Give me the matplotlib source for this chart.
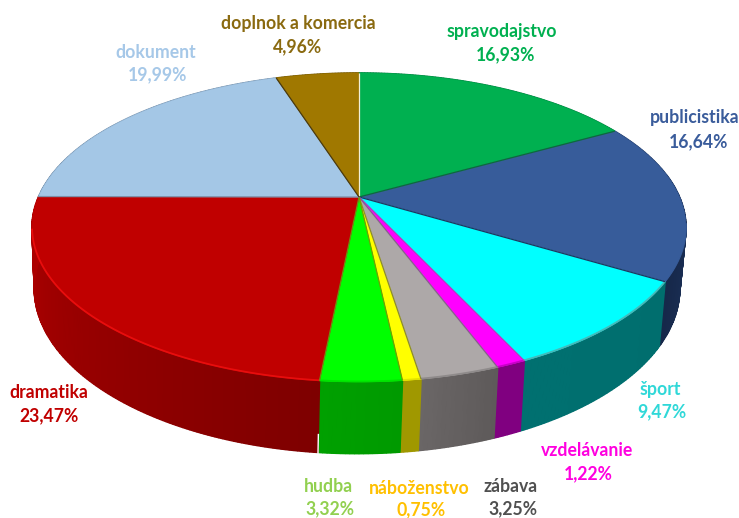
import numpy as np
import matplotlib
matplotlib.use("Agg")
import matplotlib.pyplot as plt
from matplotlib.collections import PolyCollection
from matplotlib.colors import to_rgb

categories = ["spravodajstvo", "publicistika", "šport", "vzdelávanie", "zábava",
              "náboženstvo", "hudba", "dramatika", "dokument", "doplnok a komercia"]
values = [16.93, 16.64, 9.47, 1.22, 3.25, 0.75, 3.32, 23.47, 19.99, 4.96]
value_labels = ["16,93%", "16,64%", "9,47%", "1,22%", "3,25%", "0,75%", "3,32%", "23,47%", "19,99%", "4,96%"]

top_colors = ["#00B050", "#375C9A", "#00FFFF", "#FF00FF", "#ADA8A8", "#FFFF00", "#00FF00", "#C00000", "#A4C7E6", "#A07800"]
side_start = ["#008040", "#25406E", "#006E6E", "#800080", "#5E5A5A", "#A09800", "#009A00", "#7E0000", "#708CA8", "#705400"]
side_end = ["#008040", "#16284A", "#007070", "#800080", "#6A6666", "#A09800", "#00A000", "#B00000", "#708CA8", "#705400"]
rim_colors = ["#00B050", "#375C9A", "#50B0B0", "#C000C0", "#8A8686", "#E0E000", "#00E000", "#F01010", "#A4C7E6", "#A07800"]
sep_colors = ["#F2EFD8", "#0C6B3C", "#1E3760", "#B040C0", "#8A5A90", "#8A8A30", "#70A000", "#6A9010", "#7E8FA8", "#4A3A10"]
text_colors = ["#00B050", "#3A5C9B", "#30D8D8", "#FF00E0", "#505050", "#FFC000", "#92D050", "#C00000", "#A6C8E8", "#8A6A10"]

label_xy = {
    "spravodajstvo": ((502, 31), (505, 55)), "publicistika": ((695, 118), (698, 142)),
    "šport": ((660, 389), (662, 412)), "vzdelávanie": ((587, 451), (588, 474)),
    "zábava": ((511, 486), (513, 509)), "náboženstvo": ((419, 489), (421, 510)),
    "hudba": ((328, 486), (330, 509)), "dramatika": ((49, 392), (49, 416)),
    "dokument": ((156, 52), (157, 75)), "doplnok a komercia": ((298, 24), (298, 47)),
}

W, H = 739, 518
CX, CY = 359.0, 197.0
K, A, B = 0.197, 148.5, 320.6
SX, DX, DA, DB = 0.987, -2.0, 1.07, 45.0


def top_pt(t):
    u, v = np.sin(t), np.cos(t)
    d = 1 + K * v
    return CX + B * u / d, CY - A * v / d


def bottom_pt(t):
    x, y = top_pt(t)
    return CX + SX * (x - CX) + DX, DA * y + DB


fig = plt.figure(figsize=(W / 100, H / 100), dpi=100, facecolor="white")
ax = fig.add_axes([0, 0, 1, 1])
ax.set_xlim(0, W)
ax.set_ylim(H, 0)
ax.axis("off")

edges = np.radians(np.concatenate([[0], np.cumsum(values)]) * 3.6)

# sides: a solid base, then a stepped shade over it
for i in range(len(values)):
    t = np.linspace(edges[i], edges[i + 1], max(6, int(values[i] * 6)))
    c0, c1 = np.array(to_rgb(side_start[i])), np.array(to_rgb(side_end[i]))
    xt, yt = top_pt(t)
    xb, yb = bottom_pt(t)
    ax.fill(np.r_[xt, xb[::-1]], np.r_[yt, yb[::-1]], facecolor=(c0 + c1) / 2,
            edgecolor="none", zorder=2)
    polys, cols = [], []
    for j in range(len(t) - 1):
        polys.append([(xt[j], yt[j]), (xt[j + 1], yt[j + 1]), (xb[j + 1], yb[j + 1]), (xb[j], yb[j])])
        cols.append(c0 + (c1 - c0) * j / max(1, len(t) - 2))
    ax.add_collection(PolyCollection(polys, facecolors=cols, edgecolors=cols, linewidths=1.1,
                                     capstyle="butt", joinstyle="bevel", zorder=2))

# tops
for i in range(len(values)):
    t = np.linspace(edges[i], edges[i + 1], max(6, int(values[i] * 6)))
    xt, yt = top_pt(t)
    ax.fill(np.r_[CX, xt], np.r_[CY, yt], facecolor=top_colors[i], edgecolor=top_colors[i], linewidth=0.4, zorder=3)

# rim highlights on the front edge
for i in range(len(values)):
    a0, a1 = edges[i], edges[i + 1]
    lo, hi = max(a0, np.radians(100)), min(a1, np.radians(258))
    if hi > lo:
        xt, yt = top_pt(np.linspace(lo, hi, 80))
        ax.plot(xt, yt - 0.5, color=rim_colors[i], lw=1.3, alpha=0.85, zorder=4, solid_capstyle="butt")

# separators between slices
for i in range(len(values)):
    x, y = top_pt(edges[i])
    ax.plot([CX, x], [CY, y], color=sep_colors[i], lw=0.9, zorder=5, solid_capstyle="butt")

# slit between the red and green sides, low on the wall
i_red = categories.index("dramatika")
xt, yt = top_pt(edges[i_red])
xb, yb = bottom_pt(edges[i_red])
ax.plot([xt + 0.75 * (xb - xt), xb], [yt + 0.75 * (yb - yt), yb + 1], color="white", lw=1.0, zorder=5)

# labels
for name, lab, col in zip(categories, value_labels, text_colors):
    (x1, y1), (x2, y2) = label_xy[name]
    for x, y, s in ((x1, y1, name), (x2, y2, lab)):
        ax.text(x, y, s, color=col, fontsize=12.7, fontweight="bold", family="Lato",
                ha="center", va="center", zorder=6)

fig.savefig("out.png", dpi=100, facecolor="white")
